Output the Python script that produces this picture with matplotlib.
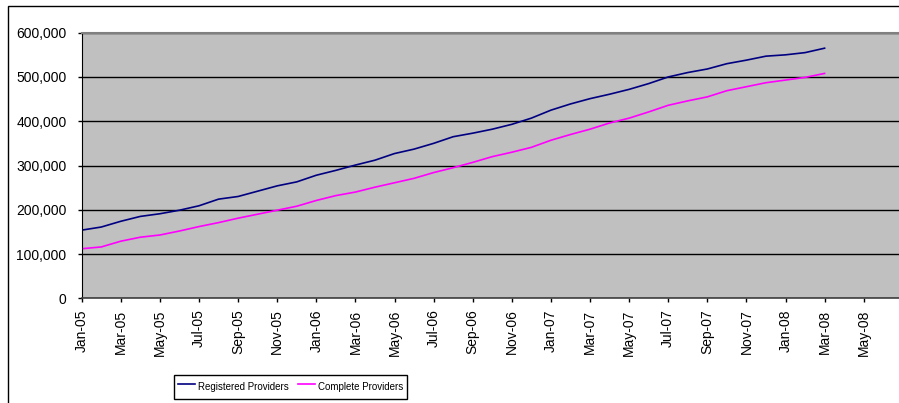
import matplotlib

matplotlib.use('Agg')
import matplotlib.pyplot as plt
import numpy as np
from matplotlib.patches import Rectangle
from matplotlib.ticker import FuncFormatter

plt.rcParams['font.family'] = ['Liberation Sans', 'DejaVu Sans']

# monthly categories, Jan-05 .. Mar-08
MONTHS = [
    'Jan-05', 'Feb-05', 'Mar-05', 'Apr-05', 'May-05', 'Jun-05', 'Jul-05', 'Aug-05',
    'Sep-05', 'Oct-05', 'Nov-05', 'Dec-05', 'Jan-06', 'Feb-06', 'Mar-06', 'Apr-06',
    'May-06', 'Jun-06', 'Jul-06', 'Aug-06', 'Sep-06', 'Oct-06', 'Nov-06', 'Dec-06',
    'Jan-07', 'Feb-07', 'Mar-07', 'Apr-07', 'May-07', 'Jun-07', 'Jul-07', 'Aug-07',
    'Sep-07', 'Oct-07', 'Nov-07', 'Dec-07', 'Jan-08', 'Feb-08', 'Mar-08',
]

# axis runs a few months past the data
TICK_LABELS = [
    'Jan-05', 'Mar-05', 'May-05', 'Jul-05', 'Sep-05', 'Nov-05', 'Jan-06',
    'Mar-06', 'May-06', 'Jul-06', 'Sep-06', 'Nov-06', 'Jan-07', 'Mar-07',
    'May-07', 'Jul-07', 'Sep-07', 'Nov-07', 'Jan-08', 'Mar-08', 'May-08',
]

# values in thousands of providers
REGISTERED = [
    154, 161, 174, 185, 191, 199, 209, 224, 230, 242, 254, 263, 278, 289,
    301, 312, 327, 337, 350, 365, 373, 382, 393, 407, 425, 439, 451, 461,
    472, 485, 500, 510, 518, 530, 538, 547, 550, 555, 565,
]
COMPLETE = [
    112, 116, 129, 138, 143, 152, 162, 171, 181, 190, 199, 208, 221, 232,
    240, 251, 261, 271, 284, 295, 307, 320, 330, 341, 357, 370, 382, 396,
    407, 421, 436, 446, 455, 469, 478, 487, 493, 499, 508,
]

W, H = 899, 403
fig = plt.figure(figsize=(W / 100, H / 100), dpi=100)

# outer chart border (cropped on the right and bottom)
fig.patches.append(
    Rectangle(
        (8 / W, -0.1), 1.2, (H - 6) / H + 0.1,
        transform=fig.transFigure, fill=False, edgecolor='black', linewidth=1,
    )
)

ax = fig.add_axes([81.7 / W, (H - 298.3) / H, (W - 81.7) / W, (298.3 - 32.7) / H])
ax.set_facecolor('#C0C0C0')

x = np.arange(len(MONTHS))
ax.plot(x, REGISTERED, color='#000080', linewidth=1.2, label='Registered Providers')
ax.plot(x, COMPLETE, color='#FF00FF', linewidth=1.2, label='Complete Providers')

ax.set_xlim(0, (W - 81.7) / 19.55)
ax.set_ylim(0, 600)
ax.set_yticks(np.arange(0, 601, 100))
ax.yaxis.set_major_formatter(FuncFormatter(lambda v, pos: f'{v * 1000:,.0f}'))
ax.set_xticks(np.arange(0, 2 * len(TICK_LABELS), 2))
ax.set_xticklabels(TICK_LABELS, rotation=90, va='top', ha='center')

ax.yaxis.grid(True, color='black', linewidth=1)
ax.set_axisbelow(True)

ax.spines['right'].set_visible(False)
ax.spines['top'].set_color('#808080')
ax.spines['top'].set_linewidth(1.5)
ax.spines['left'].set_color('black')
ax.spines['bottom'].set_color('#404040')
ax.spines['bottom'].set_linewidth(1.2)

ax.tick_params(axis='y', direction='out', length=3, width=1, pad=8, labelsize=10)
ax.tick_params(axis='x', direction='out', length=3, width=1, pad=5, labelsize=10)

leg = fig.legend(
    loc='center',
    bbox_to_anchor=(290.5 / W, (H - 387) / H),
    ncol=2,
    frameon=True,
    fancybox=False,
    edgecolor='black',
    framealpha=1,
    handlelength=1.75,
    handleheight=2.2,
    handletextpad=0.25,
    columnspacing=1.0,
    borderpad=0.4,
    borderaxespad=0,
    prop={'size': 7},
)
leg.get_frame().set_linewidth(1)

fig.savefig('out.png', dpi=100)
